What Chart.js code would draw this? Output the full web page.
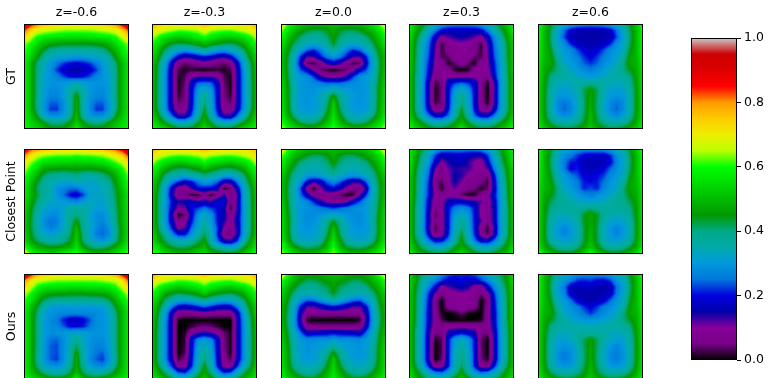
<!DOCTYPE html>
<html>
<head>
<meta charset="utf-8">
<title>Heatmaps</title>
<script src="https://cdn.jsdelivr.net/npm/chart.js@4"></script>
<style>
    html, body { margin: 0; background: #fff; overflow: hidden; }
    canvas { position: absolute; }
</style>
</head>
<body>
<script>
const columnTitles = ['z=-0.6', 'z=-0.3', 'z=0.0', 'z=0.3', 'z=0.6'];
const rowTitles = ['GT', 'Closest Point', 'Ours'];
const colorbarTicks = [0, 0.2, 0.4, 0.6, 0.8, 1];

// values, hundredths of the colorbar, 17 x 17 samples per panel
const gtA = [
[95,88,82,78,75,74,73,72,72,72,73,74,75,78,82,88,95],
[84,74,68,66,65,64,63,63,63,63,63,64,65,66,68,74,84],
[74,66,60,58,57,56,56,55,55,55,56,56,57,58,60,66,74],
[64,60,55,50,47,46,45,45,45,45,45,46,47,50,55,60,64],
[62,57,50,44,39,38,37,37,37,37,37,38,39,44,50,57,62],
[60,54,46,38,34,32,31,30,30,30,31,32,34,38,46,54,60],
[58,50,41,34,30,26,22,20,19,20,22,26,30,34,41,50,58],
[58,50,40,33,29,22,18,16,15,16,18,22,29,33,40,50,58],
[58,50,40,32,29,27,23,20,19,20,23,27,29,32,40,50,58],
[58,50,40,32,29,29,30,32,34,32,30,29,29,32,40,50,58],
[58,50,40,31,28,28,30,35,40,35,30,28,28,31,40,50,58],
[58,50,40,31,27,27,30,37,46,37,30,27,27,31,40,50,58],
[58,50,39,30,24,24,28,36,48,36,28,24,24,30,39,50,58],
[58,50,40,30,22,22,28,36,48,36,28,22,22,30,40,50,58],
[58,52,44,33,29,28,30,37,50,37,30,28,29,33,44,52,58],
[59,54,50,45,40,39,40,45,52,45,40,39,40,45,50,54,59],
[60,56,53,50,47,46,47,50,58,50,47,46,47,50,53,56,60]];
const gtB = [
[80,74,72,72,73,74,74,76,78,76,74,74,73,72,72,74,80],
[72,68,66,64,62,62,63,64,68,64,63,62,62,64,66,68,72],
[66,60,56,54,52,53,55,57,60,57,55,53,52,54,56,60,66],
[60,55,48,44,42,43,45,47,50,47,45,43,42,44,48,55,60],
[58,50,41,36,32,29,31,34,38,34,31,29,32,36,41,50,58],
[55,46,36,27,18,14,15,18,20,18,15,14,18,27,36,46,55],
[53,42,31,17,6,4,5,7,9,7,5,4,6,17,31,42,53],
[52,41,29,15,3,1,2,1,0,1,2,1,3,15,29,41,52],
[52,41,28,15,1,3,10,12,12,12,10,3,1,15,28,41,52],
[52,40,28,15,1,4,17,24,25,24,17,4,1,15,28,40,52],
[52,40,28,15,1,5,18,29,34,29,18,5,1,15,28,40,52],
[52,40,28,15,2,5,18,31,38,31,18,5,2,15,28,40,52],
[52,40,28,15,4,6,18,32,40,32,18,6,4,15,28,40,52],
[52,41,29,16,7,7,19,33,44,33,19,7,7,16,29,41,52],
[54,45,35,25,14,14,23,36,47,36,23,14,14,25,35,45,54],
[57,50,44,38,33,33,36,43,50,43,36,33,33,38,44,50,57],
[60,57,54,50,46,45,46,50,55,50,46,45,46,50,54,57,60]];
const gtC = [
[72,62,56,52,50,50,50,50,50,50,50,50,50,52,56,62,72],
[64,56,50,47,44,42,42,44,48,44,42,42,44,47,50,56,64],
[60,52,46,41,38,37,38,41,46,41,38,37,38,41,46,52,60],
[57,49,42,37,34,33,34,38,44,38,34,33,34,37,42,49,57],
[54,46,38,31,24,21,26,32,38,32,26,21,24,31,38,46,54],
[52,44,34,21,12,13,20,26,29,26,20,13,12,21,34,44,52],
[52,43,32,18,3,2,6,14,18,14,6,2,3,18,32,43,52],
[53,43,33,23,18,10,4,2,0,2,4,10,18,23,33,43,53],
[54,44,34,30,28,22,14,10,10,10,14,22,28,30,34,44,54],
[55,45,35,30,29,28,26,24,24,24,26,28,29,30,35,45,55],
[56,46,36,30,29,29,31,32,36,32,31,29,29,30,36,46,56],
[56,46,35,30,29,30,33,38,46,38,33,30,29,30,35,46,56],
[56,47,35,30,29,30,33,40,52,40,33,30,29,30,35,47,56],
[57,47,36,31,30,30,34,42,54,42,34,30,30,31,36,47,57],
[59,49,40,34,32,33,37,46,56,46,37,33,32,34,40,49,59],
[62,54,48,42,40,40,44,50,58,50,44,40,40,42,48,54,62],
[67,60,56,53,50,50,53,57,62,57,53,50,50,53,56,60,67]];
const gtD = [
[60,52,46,40,34,30,28,27,27,27,28,30,34,40,46,52,60],
[58,49,42,34,26,19,17,17,17,17,17,19,26,34,42,49,58],
[56,46,37,28,17,9,12,14,15,14,12,9,17,28,37,46,56],
[54,44,34,25,13,2,7,9,10,9,7,2,13,25,34,44,54],
[54,43,33,24,12,2,7,8,9,8,7,2,12,24,33,43,54],
[54,43,32,23,11,3,4,8,9,8,4,3,11,23,32,43,54],
[54,42,31,21,10,8,1,4,8,4,1,8,10,21,31,42,54],
[54,42,31,20,9,8,8,1,0,1,8,8,9,20,31,42,54],
[53,41,31,18,6,8,10,10,10,10,10,8,6,18,31,41,53],
[53,41,30,15,2,5,18,22,24,22,18,7,1,13,30,41,53],
[53,41,30,15,1,5,19,29,34,29,19,7,0,13,30,41,53],
[53,41,30,15,1,5,19,32,38,32,19,7,0,13,30,41,53],
[53,41,30,15,2,5,19,33,40,33,19,7,1,13,30,41,53],
[53,41,31,17,7,8,20,35,44,35,20,8,6,16,31,41,53],
[54,44,35,26,18,18,25,37,46,37,25,18,18,26,35,44,54],
[57,49,44,38,35,35,38,44,50,44,38,35,35,38,44,49,57],
[62,55,50,47,45,45,47,50,57,50,47,45,45,47,50,55,62]];
const gtE = [
[62,52,44,38,34,31,29,28,28,28,29,31,34,38,44,52,62],
[60,50,42,33,25,18,16,15.5,15,15.5,16,18,25,33,42,50,60],
[60,50,41,31,23,16,15,15,15,15,15,16,23,31,41,50,60],
[59,50,42,32,28,21,17,16,15,16,17,21,28,32,42,50,59],
[59,50,44,34,30,28,23,19,18,19,23,28,30,34,44,50,59],
[58,50,46,37,31,29,26,22,19,22,26,29,31,37,46,50,58],
[57,49,47,40,33,30,28,24,22,24,28,30,33,40,47,49,57],
[56,48,44,40,36,33,30,28,26,28,30,33,36,40,44,48,56],
[56,47,40,37,36,35,33,31,30,31,33,35,36,37,40,47,56],
[56,46,38,34,33,34,36,37,38,37,36,34,33,34,38,46,56],
[56,45,37,32,31,32,35,42,46,42,35,32,31,32,37,45,56],
[56,45,36,30,29,30,34,42,47,42,34,30,29,30,36,45,56],
[56,45,36,28,25,28,33,41,48,41,33,28,25,28,36,45,56],
[56,45,36,28,24,27,33,41,49,41,33,27,24,28,36,45,56],
[56,46,37,31,28,30,35,42,50,42,35,30,28,31,37,46,56],
[57,48,42,37,36,36,39,44,50,44,39,36,36,37,42,48,57],
[60,52,48,46,44,44,46,48,53,48,46,44,44,46,48,52,60]];

const closestA = [
[92,84,80,77,76,74,74,74,73,74,74,76,77,80,84,88,95],
[82,72,66,64,63,62,62,62,61,62,62,63,64,66,70,75,85],
[72,64,60,56,55,54,54,54,53,54,54,55,56,59,62,66,74],
[66,60,54,48,46,46,45,46,46,46,45,46,47,50,54,60,68],
[62,56,49,42,39,38,38,38,40,37,37,38,40,43,49,56,64],
[60,52,44,38,35,34,32,32,35,33,32,33,36,39,46,54,62],
[58,50,42,37,35,29,27,25,25,29,32,32,33,37,44,52,60],
[58,50,43,38,35,29,25,20,18,22,31,32,33,36,43,50,58],
[56,48,41,36,33,32,30,28,27,30,34,32,32,35,42,50,58],
[55,46,38,33,30,30,32,36,37,36,34,31,31,34,41,50,57],
[54,45,36,31,28,28,32,38,40,38,32,28,28,33,40,49,57],
[54,44,36,28,25,26,32,38,45,38,33,29,27,32,40,49,57],
[54,44,36,30,26,28,33,39,50,38,33,28,25,29,38,48,56],
[55,45,38,33,31,32,36,41,52,40,33,26,24,28,38,48,56],
[56,47,42,38,36,37,39,44,53,41,36,31,29,33,40,49,58],
[62,54,49,47,45,45,47,49,56,47,42,40,41,44,48,54,60],
[70,62,58,56,54,56,60,62,62,57,52,50,50,52,56,60,64]];
const closestB = [
[80,74,72,72,73,74,74,76,78,76,74,74,73,72,72,74,78],
[72,67,65,63,62,62,63,64,66,64,63,62,62,63,65,67,72],
[66,60,56,54,52,53,55,56,60,56,55,53,52,54,56,60,66],
[60,55,48,44,42,42,44,46,50,47,44,42,42,44,48,55,60],
[58,50,41,37,35,33,36,38,40,38,36,32,32,36,41,50,58],
[55,46,36,28,22,18,20,26,30,28,24,16,16,26,36,46,55],
[54,43,32,18,8,6,13,20,20,20,16,1,5,17,32,43,54],
[53,42,31,16,6,6,1,1,7,0,7,14,5,12,31,42,53],
[53,41,31,20,14,16,18,13,15,13,19,20,6,13,31,41,53],
[53,41,30,19,10,11,20,22,25,22,20,16,1,14,30,41,53],
[53,41,30,16,1,4,18,28,33,28,20,15,8,15,30,41,53],
[53,41,30,17,6,8,20,30,36,30,20,14,8,16,30,41,53],
[53,42,32,21,9,12,24,32,38,32,22,10,6,15,30,41,53],
[55,45,38,28,20,20,28,36,42,35,21,6,5,15,31,42,53],
[56,48,42,37,34,34,37,41,46,36,25,15,14,22,36,46,55],
[60,54,48,44,42,42,44,47,50,42,38,34,33,36,44,50,58],
[64,60,56,53,50,50,52,54,56,50,48,47,46,48,52,57,62]];
const closestC = [
[72,62,56,52,50,50,50,50,50,50,50,50,50,52,56,62,72],
[64,56,50,47,44,42,42,44,48,44,42,42,44,47,50,56,64],
[60,52,46,41,38,37,38,41,46,41,38,37,38,41,46,52,60],
[57,49,42,37,35,34,35,38,42,38,35,34,35,37,42,49,57],
[54,46,38,35,31,30,31,34,37,34,31,30,31,34,38,46,54],
[52,44,36,30,19,14,17,24,28,24,18,14,15,24,36,44,52],
[52,43,35,23,8,1,9,17,20,16,10,6,4,15,34,43,52],
[53,43,35,25,16,8,7,8,6,4,1,1,12,22,35,43,53],
[54,44,35,30,27,21,14,10,8,8,10,18,23,30,35,44,54],
[55,45,35,30,29,28,26,24,22,24,26,28,29,30,35,45,55],
[56,46,36,30,28,28,29,31,33,31,29,28,28,30,36,46,56],
[56,47,36,30,28,29,32,38,44,38,32,29,28,30,36,47,56],
[56,47,35,30,29,30,33,40,50,40,33,30,29,30,35,47,56],
[57,47,36,31,30,31,34,42,54,42,34,31,30,31,36,47,57],
[58,49,39,34,33,34,37,46,56,46,37,34,33,34,39,49,58],
[62,54,47,43,41,42,44,50,60,50,44,42,41,43,47,54,62],
[66,60,56,52,50,50,53,57,66,57,53,50,50,52,56,60,66]];
const closestD = [
[60,50,44,38,32,28,27,27,27,27,27,28,32,38,44,52,60],
[58,48,40,32,22,16,17,18,18,16,15,15,22,33,42,50,58],
[58,47,38,29,18,10,14,16,17,14,10,7,18,30,40,48,58],
[56,45,35,26,12,5,12,14,13,13,10,8,12,26,37,46,56],
[54,44,33,24,8,6,10,15,14,10,8,7,5,20,35,45,55],
[54,43,32,22,6,3,10,15,11,6,7,6,2,18,33,44,54],
[54,43,32,21,8,1,8,12,8,6,5,1,4,17,32,43,54],
[54,43,31,21,9,7,9,8,4,1,1,7,9,19,31,43,54],
[54,42,31,18,7,10,16,18,18,16,14,12,7,17,31,42,54],
[53,41,31,17,6,9,20,26,28,26,20,9,8,16,31,41,53],
[53,41,31,16,3,8,20,30,34,30,20,9,7,16,31,41,53],
[53,41,31,16,6,8,20,32,38,32,20,12,7,16,31,41,53],
[53,41,31,15,2,8,20,33,40,33,20,8,1,14,31,41,53],
[53,41,32,18,5,9,21,35,44,35,21,9,3,15,31,41,53],
[54,44,36,27,19,20,27,37,46,37,26,18,18,25,35,44,54],
[56,47,42,37,34,34,38,44,48,44,38,34,33,36,42,47,56],
[60,52,48,46,44,44,46,50,56,50,46,44,44,46,48,52,60]];
const closestE = [
[62,50,44,38,33,31,29,28,28,28,29,31,34,38,44,52,62],
[60,50,42,34,28,26,22,19,18,18,17,21,28,33,42,50,60],
[60,50,41,32,26,21,20,16,16,16,16,19,27,32,41,50,60],
[59,50,42,33,26,19,21,17,16,17,19,24,28,33,42,50,59],
[59,50,44,34,30,26,23,19,19,20,22,27,30,34,44,50,59],
[58,50,46,37,31,29,26,21,20,21,25,29,31,37,46,50,58],
[57,49,47,40,33,30,27,21,23,21,27,30,33,40,47,49,57],
[56,48,45,40,36,33,30,28,26,28,30,33,36,40,45,48,56],
[56,47,42,39,38,36,33,32,31,32,33,36,38,39,42,47,56],
[56,46,40,38,37,37,37,38,40,38,37,37,37,38,40,46,56],
[56,46,38,35,34,35,38,44,47,44,38,35,34,35,38,46,56],
[56,45,36,32,31,32,36,44,47,44,36,32,31,32,36,45,56],
[56,45,35,30,27,30,34,43,48,43,34,30,27,30,35,45,56],
[56,45,35,30,27,30,34,43,49,43,34,30,27,30,35,45,56],
[56,46,37,33,31,32,36,43,50,43,36,32,31,33,37,46,56],
[58,48,43,39,37,37,40,46,52,46,40,37,37,39,43,48,58],
[65,56,50,47,46,46,49,53,62,53,49,46,46,47,50,56,65]];

const oursA = [
[95,88,80,76,75,74,73,73,72,73,73,74,75,76,80,88,95],
[82,72,66,65,64,63,63,63,63,63,63,63,64,65,66,72,84],
[74,66,60,57,56,56,56,55,55,55,56,56,56,57,60,66,74],
[66,60,54,49,47,46,46,45,45,45,46,46,47,49,54,60,66],
[62,56,49,42,39,38,38,38,38,38,38,38,39,42,49,56,62],
[60,52,44,36,31,30,30,30,31,30,30,30,31,36,44,52,60],
[58,50,41,32,29,28,27,27,27,27,27,28,29,33,41,50,58],
[58,50,40,31,28,26,21,18,17,19,23,28,29,32,40,50,58],
[58,50,40,31,28,27,24,20,20,21,25,28,29,32,40,50,58],
[58,50,40,31,28,29,30,32,33,32,30,29,29,32,40,50,58],
[58,50,40,31,25,24,28,33,38,33,29,28,28,31,40,50,58],
[58,50,40,30,24,23,28,34,42,34,29,27,27,31,40,50,58],
[58,50,39,30,24,23,28,36,46,36,29,25,24,30,39,50,58],
[58,50,39,30,24,22,28,36,48,36,28,24,22,29,39,50,58],
[58,50,41,33,29,28,31,38,48,38,31,28,27,32,41,50,58],
[58,52,46,40,37,36,37,42,50,42,37,36,37,40,46,52,58],
[60,56,53,50,47,46,47,50,58,50,47,46,47,50,53,56,60]];
const oursB = [
[80,74,72,72,73,74,74,76,78,76,74,74,73,72,72,74,80],
[72,68,66,64,62,62,63,64,67,64,63,62,62,64,66,68,72],
[66,60,56,54,52,53,55,57,60,57,55,53,52,54,56,60,66],
[60,55,48,44,42,43,45,47,52,47,45,43,42,44,48,55,60],
[58,50,41,36,33,31,33,36,38,36,33,31,33,36,41,50,58],
[55,46,36,26,18,17,18,21,24,21,18,17,18,26,36,46,55],
[54,43,31,16,7,7,7,8,9,8,7,7,7,16,31,43,54],
[53,41,29,15,1,0,0,0,0,0,0,0,0,15,29,41,53],
[52,41,28,15,0,0,2,4,5,4,2,0,0,15,28,41,52],
[52,40,28,15,0,1,9,13,15,13,9,4,1,15,28,40,52],
[52,40,28,15,0,2,18,27,30,27,18,5,1,15,28,40,52],
[52,40,28,15,0,2,18,30,35,30,18,5,1,15,28,40,52],
[52,40,28,15,0,3,18,32,38,32,18,6,1,15,28,40,52],
[52,40,28,16,2,6,19,33,40,33,19,7,3,16,28,40,52],
[53,43,33,21,8,8,20,35,45,35,20,8,8,21,33,43,53],
[55,48,41,33,23,21,29,40,47,40,29,21,23,33,41,48,55],
[58,53,48,44,40,38,42,47,52,47,42,38,40,44,48,53,58]];
const oursC = [
[72,62,52,48,47,48,48,50,50,50,48,48,47,48,52,62,72],
[62,54,49,45,42,42,44,46,48,46,44,42,42,45,49,54,62],
[58,50,45,40,38,38,40,42,46,42,40,38,38,40,45,50,58],
[54,47,40,35,35,36,37,40,44,40,37,36,35,35,40,47,54],
[52,45,36,29,24,25,29,33,37,33,29,25,24,29,36,45,52],
[50,43,32,20,12,12,15,18,20,18,15,12,12,20,32,43,50],
[50,42,31,15,7,7,7,7,7,7,7,7,7,15,31,42,50],
[50,41,30,14,1,0,0,0,0,0,0,0,1,14,30,41,50],
[51,42,31,17,7,6,6,6,6,6,6,6,7,17,31,42,51],
[52,44,34,25,16,18,18,19,20,19,18,18,16,25,34,44,52],
[54,45,35,30,28,28,29,28,30,28,29,28,28,30,35,45,54],
[55,46,36,31,29,30,31,33,38,33,31,30,29,31,36,46,55],
[56,47,36,31,29,30,33,38,45,38,33,30,29,31,36,47,56],
[56,47,37,32,30,31,34,41,52,41,34,31,30,32,37,47,56],
[56,48,39,34,33,34,37,44,54,44,37,34,33,34,39,48,56],
[58,50,44,39,37,38,42,48,56,48,42,38,37,39,44,50,58],
[60,54,50,47,45,45,48,52,58,52,48,45,45,47,50,54,60]];
const oursD = [
[55,46,42,38,32,27,24,22,22,22,24,27,32,38,42,48,56],
[56,46,38,32,27,22,18,18,20,18,18,22,27,32,40,46,56],
[55,45,36,27,19,8,12,14,16,14,9,7,18,27,36,45,55],
[54,44,33,22,11,6,8,9,10,9,8,5,9,22,33,44,54],
[54,43,32,20,7,0,8,9,10,9,8,0,6,20,32,43,54],
[54,43,32,19,7,0,7,8,9,8,7,0,7,19,32,43,54],
[54,43,31,18,8,1,0,1,4,1,0,0,8,18,31,43,54],
[54,43,31,18,8,3,0,0,0,0,0,1,8,18,31,43,54],
[53,42,31,17,7,7,9,9,9,9,9,8,7,17,31,42,53],
[53,41,31,15,5,6,15,18,20,18,15,6,5,15,31,41,53],
[53,41,30,15,1,3,20,30,34,30,20,4,0,15,30,41,53],
[53,41,30,15,0,3,20,31,36,31,20,4,0,15,30,41,53],
[53,41,30,15,0,3,20,33,39,33,20,4,0,15,30,41,53],
[53,41,30,15,0,4,20,34,40,34,20,5,1,15,30,41,53],
[53,43,33,20,7,8,20,35,42,35,20,8,7,20,33,43,53],
[55,47,40,32,26,24,30,38,46,38,30,24,26,32,40,47,55],
[58,50,45,42,40,39,42,46,52,46,42,39,40,42,45,50,58]];
const oursE = [
[62,52,44,38,34,31,29,28,28,28,29,31,34,38,44,52,62],
[60,50,42,33,30,26,22,21,22,20,19,22,29,33,42,50,60],
[60,50,41,31,26,17,16,17,17,16,15,16,25,31,41,50,60],
[59,50,42,32,27,17,15,15,15,15,15,17,26,32,42,50,59],
[59,50,44,34,30,25,18,16,15.5,16,18,24,29,34,44,50,59],
[58,50,46,37,31,29,26,22,19,22,26,28,31,37,46,50,58],
[57,49,47,40,33,30,28,25,22,25,28,30,33,40,47,49,57],
[56,48,44,40,36,33,31,30,29,30,31,33,36,40,44,48,56],
[56,47,40,37,36,36,35,35,34,35,35,36,36,37,40,47,56],
[56,46,38,34,33,34,36,37,37,37,36,34,33,34,38,46,56],
[56,45,37,32,31,33,36,42,46,42,36,33,31,32,37,45,56],
[56,45,36,30,29,30,34,42,47,42,34,30,27,30,36,45,56],
[56,45,36,29,26,28,33,41,48,41,33,28,26,29,36,45,56],
[56,45,36,29,26,28,33,41,48,41,33,28,26,29,36,45,56],
[56,46,37,31,29,30,35,42,49,42,35,30,29,31,37,46,56],
[57,48,42,37,36,36,39,44,50,44,39,36,36,37,42,48,57],
[60,52,48,46,44,44,46,48,53,48,46,44,44,46,48,52,60]];

const panels = [
    [gtA, gtB, gtC, gtD, gtE],
    [closestA, closestB, closestC, closestD, closestE],
    [oursA, oursB, oursC, oursD, oursE]
];

// nipy_spectral
const cmapStops = [0, .05, .1, .15, .2, .25, .3, .35, .4, .45, .5, .55, .6, .65, .7, .75, .8, .85, .9, .95, 1];
const cmapColors = [
    [0,0,0], [119,0,136], [136,0,153], [0,0,170], [0,0,221], [0,119,221], [0,153,221],
    [0,170,170], [0,170,136], [0,153,0], [0,187,0], [0,221,0], [0,255,0], [187,255,0],
    [238,238,0], [255,204,0], [255,153,0], [255,0,0], [221,0,0], [204,0,0], [204,204,204]
];

const panelLeft = [24, 152, 281, 409, 538];
const panelTop = [24, 149, 274];
const panelSize = 105;
const axisRoom = 24;

Chart.defaults.font.family = '"DejaVu Sans"';
Chart.defaults.font.size = 12.5;
Chart.defaults.color = '#000';
Chart.defaults.animation = false;

function colorFor(v) {
    const i = Math.min(Math.floor(v / 0.05), cmapColors.length - 2);
    const t = Math.max(0, Math.min(1, (v - cmapStops[i]) / 0.05));
    const a = cmapColors[i], b = cmapColors[i + 1];
    return [a[0] + (b[0] - a[0]) * t, a[1] + (b[1] - a[1]) * t, a[2] + (b[2] - a[2]) * t];
}

// paints the samples of the dataset like imshow does, bilinear between samples
const heatmapPlugin = {
    id: 'heatmap',
    beforeDatasetsDraw(chart) {
        const { x, y } = chart.scales;
        const cells = chart.data.datasets[0].data;
        const n = Math.sqrt(cells.length);
        const left = x.getPixelForValue(0), top = y.getPixelForValue(0);
        const w = Math.round(x.getPixelForValue(n - 1) - left);
        const h = Math.round(y.getPixelForValue(n - 1) - top);
        const off = document.createElement('canvas');
        off.width = w;
        off.height = h;
        const offCtx = off.getContext('2d');
        const img = offCtx.createImageData(w, h);
        for (let py = 0; py < h; py++) {
            const gy = Math.min(y.getValueForPixel(top + py + 0.5), n - 1.001);
            const r = Math.floor(gy), fy = gy - r;
            for (let px = 0; px < w; px++) {
                const gx = Math.min(x.getValueForPixel(left + px + 0.5), n - 1.001);
                const c = Math.floor(gx), fx = gx - c;
                const v = (cells[r * n + c].v * (1 - fx) + cells[r * n + c + 1].v * fx) * (1 - fy)
                    + (cells[(r + 1) * n + c].v * (1 - fx) + cells[(r + 1) * n + c + 1].v * fx) * fy;
                const rgb = colorFor(v);
                const k = (py * w + px) * 4;
                img.data[k] = rgb[0];
                img.data[k + 1] = rgb[1];
                img.data[k + 2] = rgb[2];
                img.data[k + 3] = 255;
            }
        }
        offCtx.putImageData(img, 0, 0);
        chart.ctx.drawImage(off, left, top);
    }
};

const framePlugin = {
    id: 'frame',
    afterDraw(chart) {
        const a = chart.chartArea, ctx = chart.ctx;
        ctx.save();
        ctx.strokeStyle = '#000';
        ctx.lineWidth = 1;
        ctx.strokeRect(Math.round(a.left) + 0.5, Math.round(a.top) + 0.5,
            Math.round(a.right - a.left) - 1, Math.round(a.bottom - a.top) - 1);
        ctx.restore();
    }
};

function addCanvas(left, top, width, height) {
    const canvas = document.createElement('canvas');
    canvas.width = width;
    canvas.height = height;
    canvas.style.left = left + 'px';
    canvas.style.top = top + 'px';
    document.body.appendChild(canvas);
    return canvas;
}

panels.forEach((row, r) => {
    row.forEach((grid, c) => {
        const canvas = addCanvas(panelLeft[c] - axisRoom, panelTop[r] - axisRoom,
            panelSize + axisRoom, panelSize + axisRoom);
        const cells = [];
        grid.forEach((values, j) => values.forEach((v, i) => cells.push({ x: i, y: j, v: v / 100 })));
        new Chart(canvas, {
            type: 'scatter',
            data: { datasets: [{ data: cells, pointRadius: 0 }] },
            options: {
                responsive: false,
                events: [],
                plugins: { legend: { display: false }, tooltip: { enabled: false } },
                scales: {
                    x: {
                        position: 'top', min: 0, max: 16,
                        grid: { display: false }, border: { display: false }, ticks: { display: false },
                        title: { display: r === 0, text: columnTitles[c], padding: { top: 5, bottom: 0 } },
                        afterFit: s => { s.height = axisRoom; }
                    },
                    y: {
                        reverse: true, min: 0, max: 16,
                        grid: { display: false }, border: { display: false }, ticks: { display: false },
                        title: { display: c === 0, text: rowTitles[r], padding: { top: 4, bottom: 0 } },
                        afterFit: s => { s.width = axisRoom; }
                    }
                }
            },
            plugins: [heatmapPlugin, framePlugin]
        });
    });
});

// colorbar
new Chart(addCanvas(660, 30, 108, 340), {
    type: 'bar',
    data: {
        labels: [''],
        datasets: [{
            data: [[colorbarTicks[0], colorbarTicks[colorbarTicks.length - 1]]],
            barPercentage: 1,
            categoryPercentage: 1,
            backgroundColor: ctx => {
                const { chartArea, scales } = ctx.chart;
                if (!chartArea) return '#000';
                const gradient = ctx.chart.ctx.createLinearGradient(0, scales.y.getPixelForValue(0), 0, scales.y.getPixelForValue(1));
                cmapStops.forEach((s, i) => gradient.addColorStop(s, 'rgb(' + cmapColors[i].join(',') + ')'));
                return gradient;
            }
        }]
    },
    options: {
        responsive: false,
        events: [],
        layout: { padding: { left: 31, top: 8, bottom: 10 } },
        plugins: { legend: { display: false }, tooltip: { enabled: false } },
        scales: {
            x: { display: false },
            y: {
                position: 'right', min: 0, max: 1,
                afterBuildTicks: s => { s.ticks = colorbarTicks.map(v => ({ value: v })); },
                ticks: { padding: 3, callback: v => v.toFixed(1) },
                grid: { drawOnChartArea: false, drawTicks: true, tickLength: 4, color: '#000' },
                border: { display: false },
                afterFit: s => { s.width = 31; s.paddingTop = 0; s.paddingBottom = 0; }
            }
        }
    },
    plugins: [framePlugin]
});
</script>
</body>
</html>
